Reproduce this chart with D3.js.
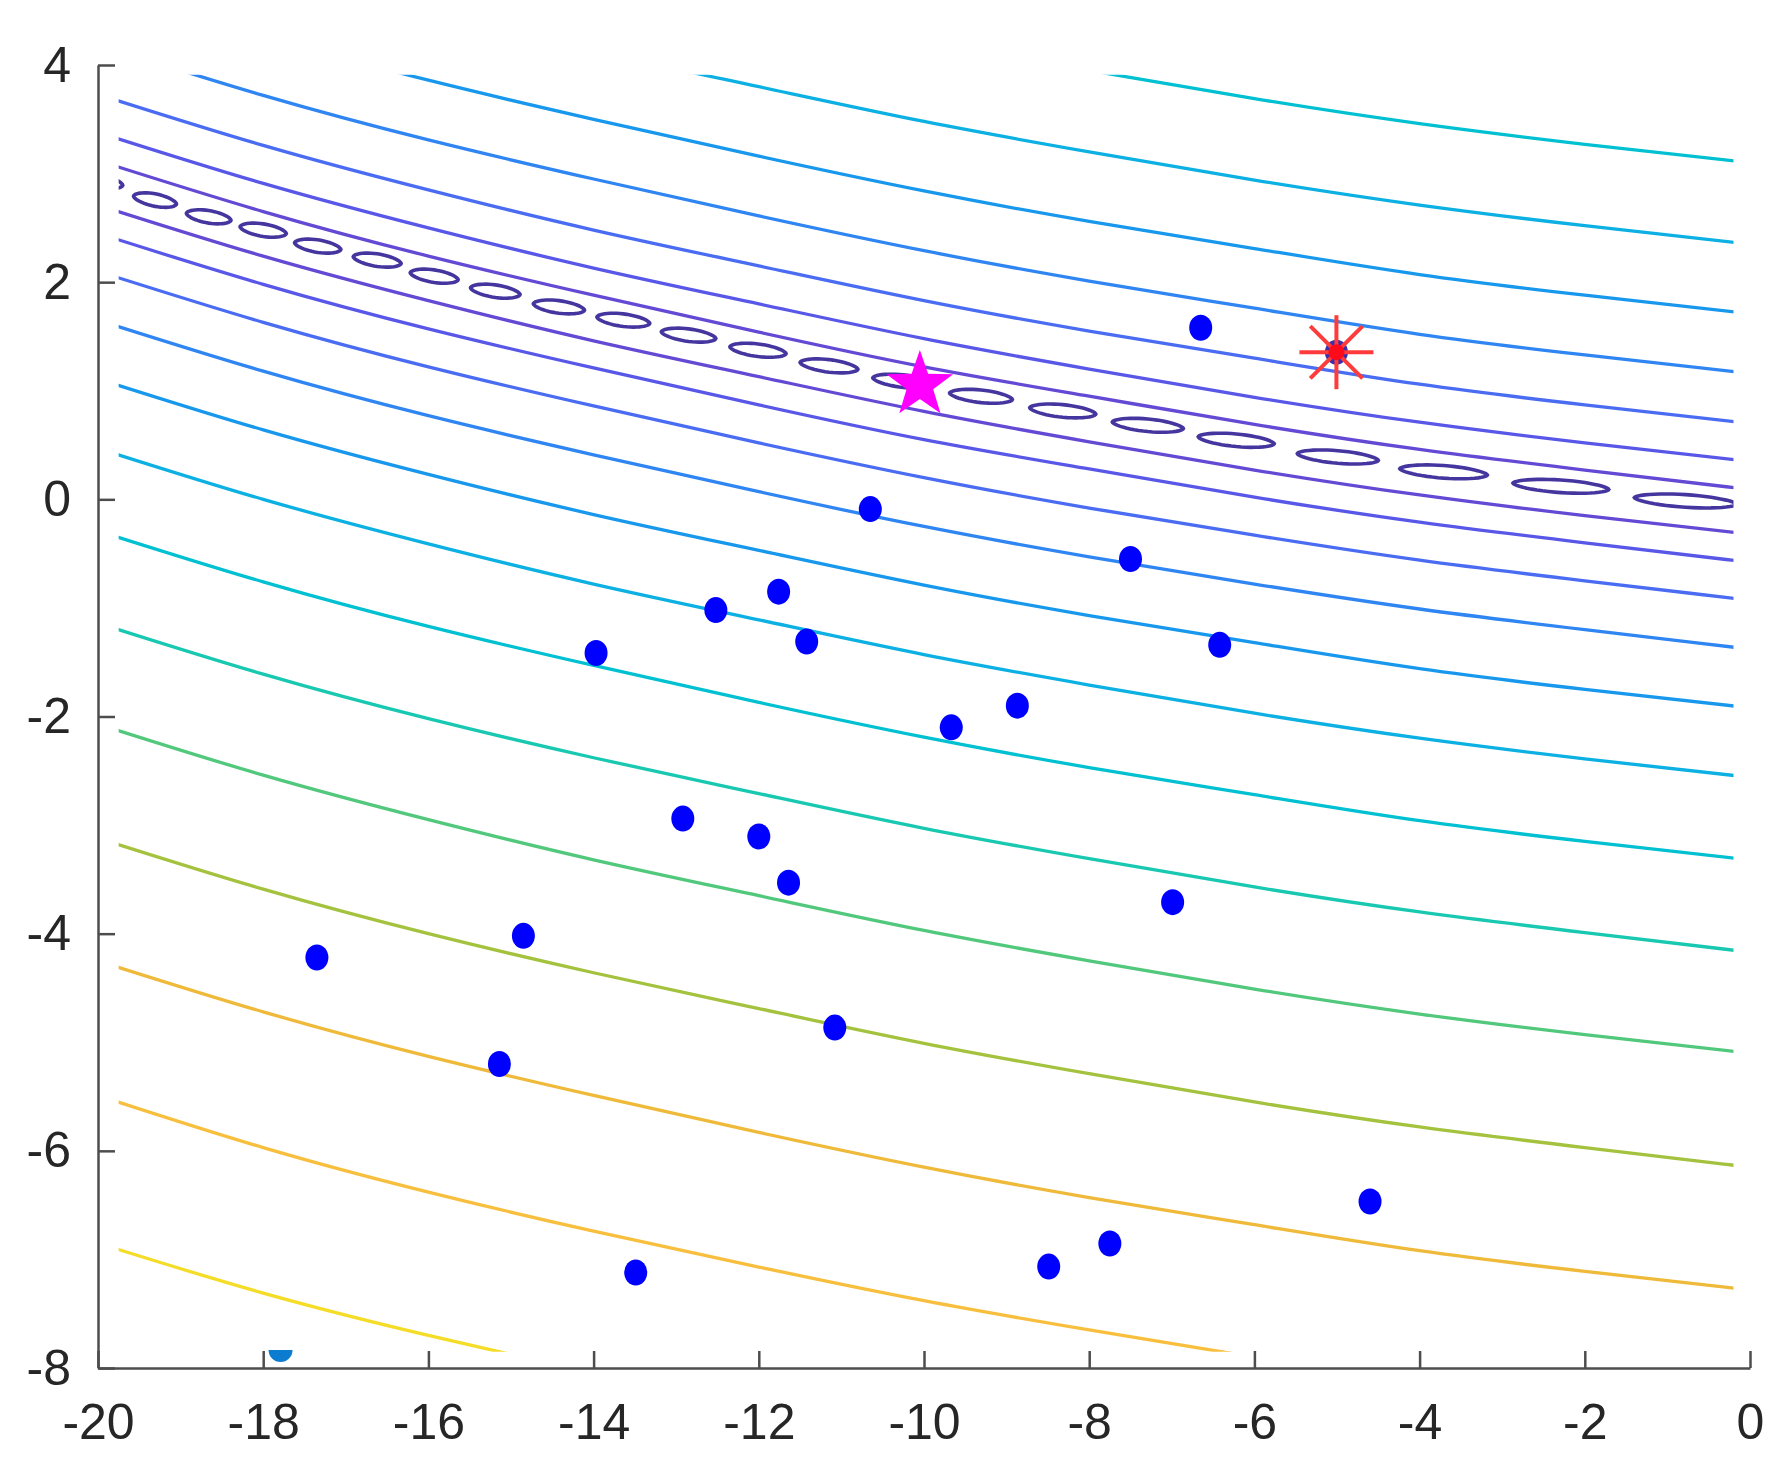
<!DOCTYPE html>
<html>
<head>
<meta charset="utf-8">
<script src="https://cdn.jsdelivr.net/npm/d3@7"></script>
<style>
  body { margin: 0; background: #fff; }
  svg { display: block; }
  .tick text { font-family: "Liberation Sans", Arial, sans-serif; font-size: 50px; fill: #262626; }
  .axis path, .axis line { stroke: #4d4d4d; stroke-width: 2.5; }
</style>
</head>
<body>
<div id="chart"></div>
<script>
// tick values
const xTicks = [-20, -18, -16, -14, -12, -10, -8, -6, -4, -2, 0];
const yTicks = [-8, -6, -4, -2, 0, 2, 4];

// contour lines, read at these x positions
const sampleX = [-20, -18, -16, -14, -12, -10, -8, -6, -4, -2, 0];

// levels above the valley (innermost first)
const upperLines = [
  [3.12, 2.65, 2.24, 1.88, 1.54, 1.22, 0.95, 0.69, 0.46, 0.27, 0.09],
  [3.38, 2.91, 2.50, 2.13, 1.80, 1.48, 1.20, 0.94, 0.71, 0.52, 0.35],
  [3.73, 3.26, 2.85, 2.48, 2.15, 1.83, 1.55, 1.30, 1.06, 0.87, 0.70],
  [4.19, 3.72, 3.31, 2.95, 2.61, 2.29, 2.01, 1.76, 1.52, 1.33, 1.16],
  [4.74, 4.27, 3.86, 3.50, 3.16, 2.84, 2.56, 2.31, 2.07, 1.88, 1.71],
  [5.38, 4.91, 4.50, 4.13, 3.80, 3.48, 3.20, 2.94, 2.71, 2.52, 2.35],
  [6.13, 5.65, 5.25, 4.88, 4.55, 4.23, 3.95, 3.69, 3.46, 3.27, 3.10]
];

// levels below the valley (innermost first)
const lowerLines = [
  [2.71, 2.24, 1.83, 1.46, 1.13, 0.81, 0.53, 0.27, 0.04, -0.15, -0.32],
  [2.45, 1.98, 1.57, 1.21, 0.87, 0.55, 0.28, 0.02, -0.21, -0.40, -0.58],
  [2.10, 1.63, 1.22, 0.86, 0.52, 0.20, -0.08, -0.33, -0.56, -0.75, -0.93],
  [1.65, 1.18, 0.77, 0.41, 0.07, -0.25, -0.53, -0.78, -1.01, -1.20, -1.38],
  [1.11, 0.64, 0.23, -0.14, -0.47, -0.79, -1.07, -1.32, -1.56, -1.75, -1.92],
  [0.47, 0.00, -0.41, -0.78, -1.11, -1.43, -1.71, -1.97, -2.20, -2.39, -2.56],
  [-0.29, -0.76, -1.17, -1.53, -1.87, -2.19, -2.47, -2.72, -2.96, -3.15, -3.32],
  [-1.14, -1.61, -2.02, -2.38, -2.71, -3.03, -3.31, -3.57, -3.80, -3.99, -4.17],
  [-2.07, -2.54, -2.95, -3.32, -3.65, -3.97, -4.25, -4.51, -4.74, -4.93, -5.10],
  [-3.12, -3.59, -4.00, -4.36, -4.69, -5.01, -5.29, -5.55, -5.78, -5.97, -6.15],
  [-4.25, -4.72, -5.13, -5.49, -5.83, -6.15, -6.43, -6.68, -6.92, -7.11, -7.28],
  [-5.49, -5.97, -6.38, -6.74, -7.07, -7.38, -7.65, -7.90, -8.13],
  [-6.85, -7.31, -7.70, -8.05]
];

// small closed contours along the valley floor
const valleyX = [-19.96, -19.31, -18.66, -18.0, -17.34, -16.62, -15.93, -15.19, -14.42, -13.64, -12.85,
                 -12.01, -11.15, -10.25, -9.31, -8.32, -7.29, -6.22, -4.99, -3.71, -2.29, -0.78];
const valleyY = [2.93, 2.756, 2.602, 2.479, 2.332, 2.203, 2.055, 1.917, 1.772, 1.65, 1.512,
                 1.373, 1.229, 1.088, 0.949, 0.814, 0.682, 0.544, 0.39, 0.253, 0.12, -0.015];
const valleyHalfLen = [0.26, 0.26, 0.27, 0.28, 0.28, 0.29, 0.29, 0.30, 0.31, 0.32, 0.33,
                       0.34, 0.35, 0.37, 0.38, 0.40, 0.43, 0.46, 0.49, 0.53, 0.58, 0.62];

// scatter points
const pointsX = [-6.65, -10.65, -7.50, -11.76, -12.52, -11.42, -6.42, -13.97, -8.87, -9.67, -12.92,
                 -12.00, -11.64, -6.99, -14.85, -17.35, -11.08, -15.14, -4.60, -7.75, -8.49, -13.49];
const pointsY = [1.58, -0.09, -0.55, -0.85, -1.02, -1.31, -1.34, -1.415, -1.90, -2.10, -2.94,
                 -3.105, -3.53, -3.71, -4.02, -4.22, -4.865, -5.20, -6.467, -6.854, -7.066, -7.121];

const edgePoint = [-17.79, -7.834];
const starPoint = [-10.05, 1.053];
const asteriskPoint = [-5.007, 1.355];

// extent of the contour grid
const gridXRange = [-19.75, -0.2];
const gridYRange = [-7.85, 3.91];

const levelColors = ['#45369f', '#6449d4', '#5857e8', '#4a6cf2', '#2f86f2', '#1898ec', '#0cb0e2',
                     '#00c0d2', '#18c8b0', '#52c87c', '#a4c23e', '#efb93a', '#f8bf3e', '#f5dc26'];

const w = 1792, h = 1472;

const svg = d3.select('#chart')
  .append('svg')
  .attr('width', w)
  .attr('height', h)
  .style('background', '#fff');

const x = d3.scaleLinear().domain([-20, 0]).range([98, 1750]);
const y = d3.scaleLinear().domain([-8, 4]).range([1368, 65]);

svg.append('clipPath')
  .attr('id', 'grid-clip')
  .append('rect')
  .attr('x', x(gridXRange[0]))
  .attr('y', y(gridYRange[1]))
  .attr('width', x(gridXRange[1]) - x(gridXRange[0]))
  .attr('height', y(gridYRange[0]) - y(gridYRange[1]));

const contours = svg.append('g').attr('clip-path', 'url(#grid-clip)');

const line = d3.line()
  .x((d) => x(d[0]))
  .y((d) => y(d[1]))
  .curve(d3.curveNatural);

const toPts = (vals) => vals.map((v, i) => [sampleX[i], v]);

upperLines.concat(lowerLines).forEach((vals, i) => {
  const level = i < upperLines.length ? i + 1 : i - upperLines.length + 1;
  contours.append('path')
    .attr('d', line(toPts(vals)))
    .attr('fill', 'none')
    .attr('stroke', levelColors[level])
    .attr('stroke-width', 3.3);
});

// valley loops, slightly tilted along the valley
const lens = d3.line()
  .x((d) => x(d[0]))
  .y((d) => y(d[1]))
  .curve(d3.curveLinearClosed);

const halfThick = 0.058;
valleyX.forEach((cx, i) => {
  const a = valleyHalfLen[i];
  const i0 = Math.max(0, i - 1), i1 = Math.min(valleyX.length - 1, i + 1);
  const s = 0.55 * (valleyY[i1] - valleyY[i0]) / (valleyX[i1] - valleyX[i0]);
  const pts = [];
  for (let k = 0; k < 48; k++) {
    const t = (k / 48) * Math.PI * 2;
    const u = Math.cos(t);
    const side = Math.sin(t) >= 0 ? 1 : -1;
    const dx = a * u;
    const dy = s * dx + side * halfThick * Math.pow(Math.max(0, 1 - u * u), 0.6);
    pts.push([cx + dx, valleyY[i] + dy]);
  }
  contours.append('path')
    .attr('d', lens(pts))
    .attr('fill', 'none')
    .attr('stroke', levelColors[0])
    .attr('stroke-width', 3.6);
});

// axes
const xAxis = d3.axisBottom(x)
  .tickValues(xTicks)
  .tickSizeInner(-17)
  .tickSizeOuter(0)
  .tickPadding(35)
  .tickFormat(d3.format('d'));

svg.append('g')
  .attr('class', 'axis')
  .attr('transform', `translate(0, ${y(-8)})`)
  .call(xAxis);

const yAxis = d3.axisLeft(y)
  .tickValues(yTicks)
  .tickSizeInner(-17)
  .tickSizeOuter(0)
  .tickPadding(27)
  .tickFormat(d3.format('d'));

svg.append('g')
  .attr('class', 'axis')
  .attr('transform', `translate(${x(-20)}, 0)`)
  .call(yAxis);

svg.selectAll('.tick text').text((d) => String(d));

// partially hidden point at the bottom edge
svg.append('clipPath')
  .attr('id', 'edge-clip')
  .append('rect')
  .attr('x', 0)
  .attr('y', y(edgePoint[1]))
  .attr('width', w)
  .attr('height', 40);

svg.append('ellipse')
  .attr('clip-path', 'url(#edge-clip)')
  .attr('cx', x(edgePoint[0]))
  .attr('cy', y(edgePoint[1]))
  .attr('rx', 12)
  .attr('ry', 12)
  .attr('fill', '#0b7ccf');

// scatter
svg.selectAll('.dot')
  .data(pointsX.map((px, i) => [px, pointsY[i]]))
  .enter()
  .append('ellipse')
  .attr('class', 'dot')
  .attr('cx', (d) => x(d[0]))
  .attr('cy', (d) => y(d[1]))
  .attr('rx', 11.5)
  .attr('ry', 13)
  .attr('fill', '#0000ff');

// asterisk marker
const ax = x(asteriskPoint[0]), ay = y(asteriskPoint[1]);
svg.append('ellipse')
  .attr('cx', ax).attr('cy', ay)
  .attr('rx', 11.5).attr('ry', 12.5)
  .attr('fill', '#3a2fa8');
[0, 45, 90, 135].forEach((deg) => {
  const r = 37, t = deg * Math.PI / 180;
  svg.append('line')
    .attr('x1', ax - r * Math.cos(t)).attr('y1', ay - r * Math.sin(t))
    .attr('x2', ax + r * Math.cos(t)).attr('y2', ay + r * Math.sin(t))
    .attr('stroke', '#ff3b3b')
    .attr('stroke-width', 4);
});
svg.append('circle')
  .attr('cx', ax).attr('cy', ay)
  .attr('r', 8)
  .attr('fill', '#ff0a1a');

// star marker
const sx = x(starPoint[0]), sy = y(starPoint[1]);
const starPts = d3.range(10).map((k) => {
  const r = k % 2 === 0 ? 35 : 14;
  const t = -Math.PI / 2 + k * Math.PI / 5;
  return [sx + r * Math.cos(t), sy + r * Math.sin(t)];
});
svg.append('path')
  .attr('d', d3.line().curve(d3.curveLinearClosed)(starPts))
  .attr('fill', '#ff00ff');
</script>
</body>
</html>
